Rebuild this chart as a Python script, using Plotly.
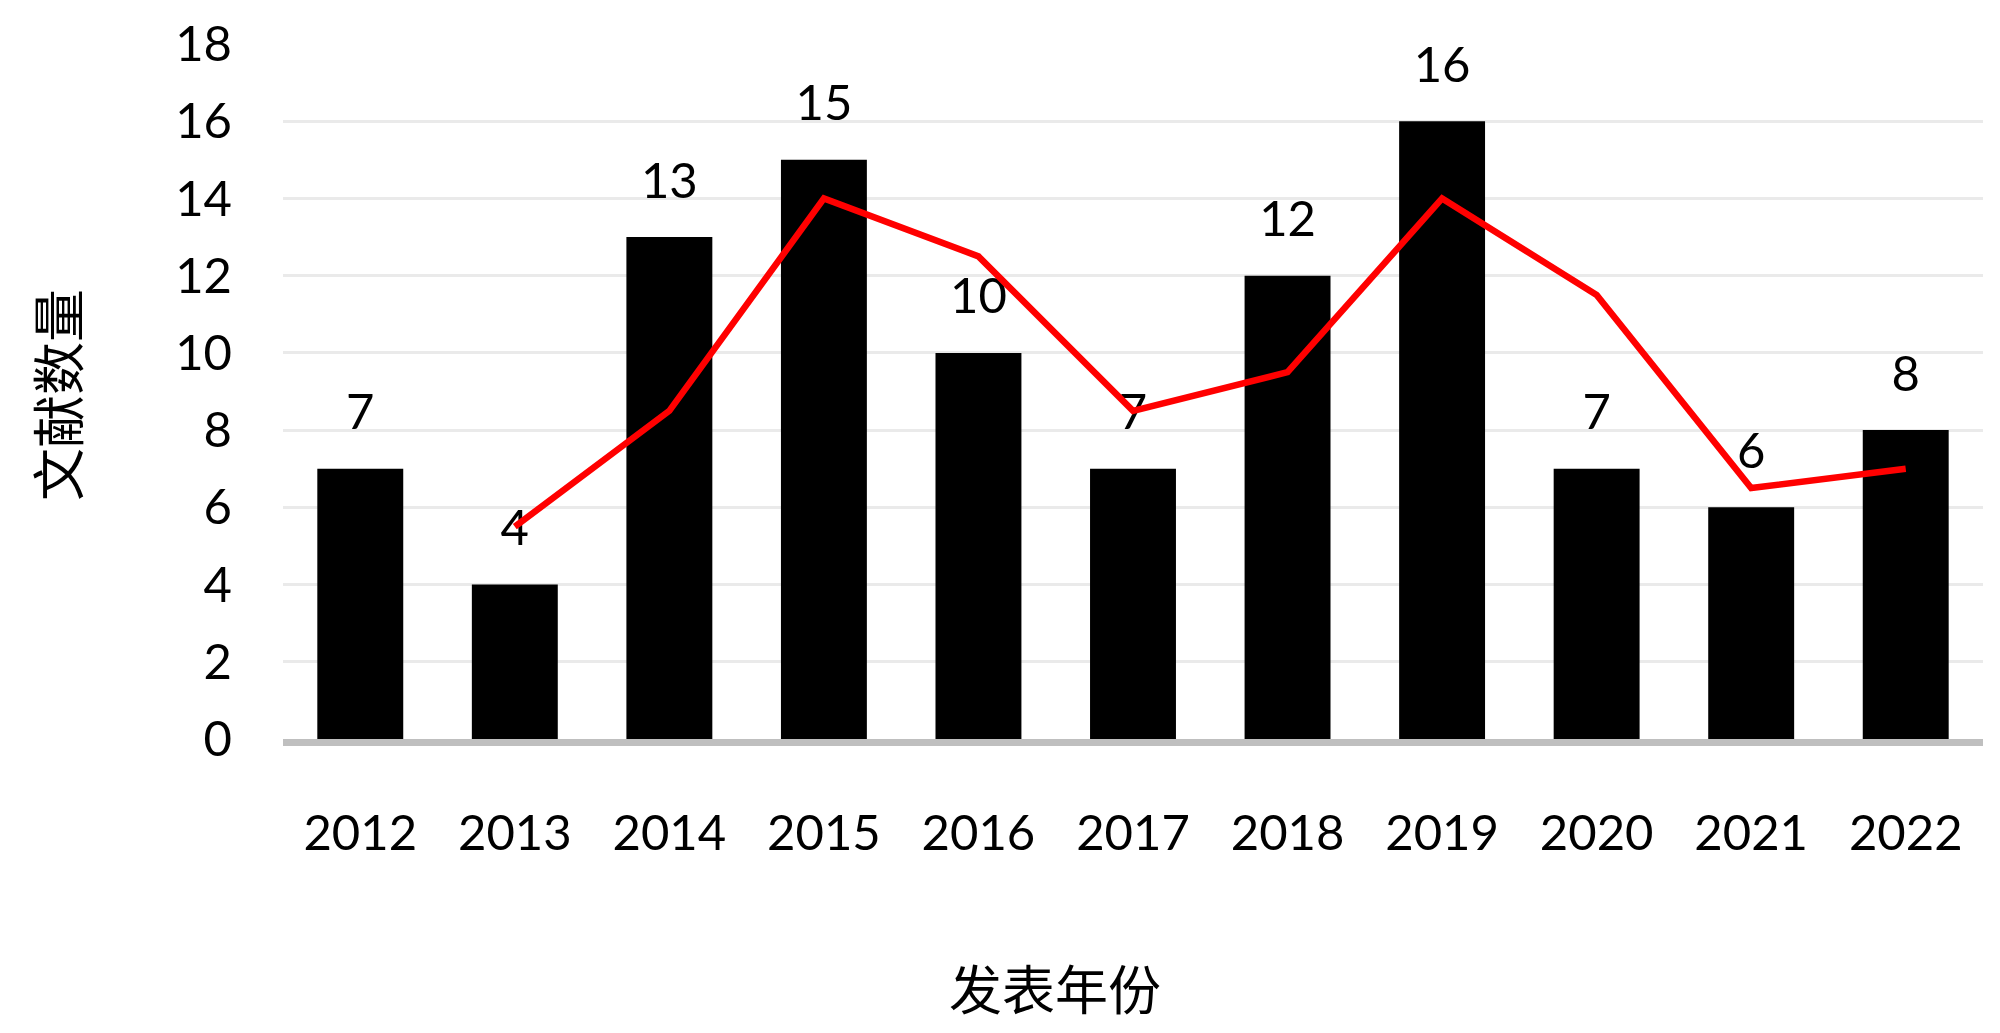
import plotly.graph_objects as go

years = ['2012', '2013', '2014', '2015', '2016', '2017', '2018', '2019', '2020', '2021', '2022']
counts = [7, 4, 13, 15, 10, 7, 12, 16, 7, 6, 8]
trend_years = ['2013', '2014', '2015', '2016', '2017', '2018', '2019', '2020', '2021', '2022']
trend_values = [5.5, 8.5, 14, 12.5, 8.5, 9.5, 14, 11.5, 6.5, 7]
y_ticks = [0, 2, 4, 6, 8, 10, 12, 14, 16, 18]

FONT = "Lato"
CJK = "Noto Sans CJK SC"
FS = 49

# page is offset by the 8px body margin
W, H = 1992, 1025
L, T = 275, 36
PLOT_R = 1975
PLOT_B = 731
R = W - PLOT_R
B = H - PLOT_B
PW = PLOT_R - L
PH = PLOT_B - T

fig = go.Figure()
fig.add_trace(go.Bar(
    x=years, y=counts,
    marker=dict(color="#000000", line=dict(width=0)),
    showlegend=False, hoverinfo="skip",
))
fig.add_trace(go.Scatter(
    x=years, y=counts, mode="markers+text",
    text=[str(c) for c in counts],
    textposition="top center",
    marker=dict(size=42, color="rgba(0,0,0,0)"),
    textfont=dict(family=FONT, size=FS, color="#000000"),
    cliponaxis=False, showlegend=False, hoverinfo="skip",
))
fig.add_trace(go.Scatter(
    x=trend_years, y=trend_values, mode="lines",
    line=dict(color="#FF0000", width=6.5),
    showlegend=False,
))

fig.update_layout(
    width=W, height=H,
    margin=dict(l=L, r=R, t=T, b=B, autoexpand=False),
    paper_bgcolor="white", plot_bgcolor="white",
    bargap=0.444,
    font=dict(family=FONT, size=FS, color="#000000"),
    annotations=[
        dict(text="发表年份", xref="paper", yref="paper",
             x=(1055 - 8 - L) / PW, y=-(987 - 8 - PLOT_B) / PH,
             xanchor="center", yanchor="middle", showarrow=False,
             font=dict(family=CJK, size=53, color="#000000")),
        dict(text="文献数量", xref="paper", yref="paper",
             x=-(L - (56 - 8)) / PW, y=1 - (395 - 8 - T) / PH, textangle=-90,
             xanchor="center", yanchor="middle", showarrow=False,
             font=dict(family=CJK, size=53, color="#000000")),
    ],
)
fig.update_xaxes(
    type="category", range=[-0.5, len(years) - 0.5], autorange=False,
    showline=True, linecolor="#BFBFBF", linewidth=7,
    showgrid=False, ticks="",
    ticklabelstandoff=45,
    tickfont=dict(family=FONT, size=FS, color="#000000"),
)
fig.update_yaxes(
    range=[0, 18], autorange=False, tickvals=y_ticks,
    showgrid=True, gridcolor="#EAEAEA", gridwidth=3,
    zeroline=False, showline=False, ticks="",
    ticklabelstandoff=50,
    tickfont=dict(family=FONT, size=FS, color="#000000"),
)

fig.write_html("out.html")
